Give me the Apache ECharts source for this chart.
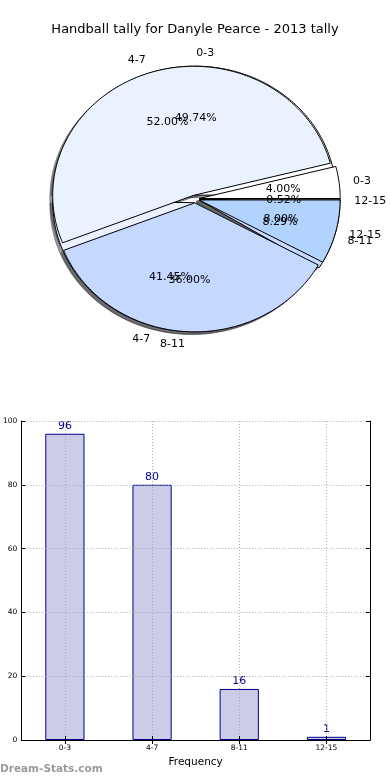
<!DOCTYPE html>
<html>
<head>
<meta charset="utf-8">
<script src="https://cdn.jsdelivr.net/npm/echarts@6/dist/echarts.min.js"></script>
<style>
html,body{margin:0;padding:0;background:#fff;}
#chart{width:390px;height:780px;}
</style>
</head>
<body>
<div id="chart"></div>
<script>
// ---- data ----
const categories = ['0-3', '4-7', '8-11', '12-15'];
const tallyCounts = [96, 80, 16, 1];          // 2013 tally (bar chart + first pie)
const otherShares = [4, 52, 36, 8];           // second overlaid pie (percent shares)
const yTicks = [0, 20, 40, 60, 80, 100];

// ---- styles / geometry ----
const sliceColors = ['#FFFFFF', '#EBF2FF', '#C5D8FF', '#B3D3FF'];
const FONT = 'DejaVu Sans';
const PIE_CX = 195, PIE_CY = 199, RX = 141, RY = 129, SPAN = 1.3;
const EXPLODE = 0.03, SHADOW_DX = -0.02, SHADOW_DY = -0.02;

function wedgeGeom(values, i) {
  const total = values.reduce((a, b) => a + b, 0);
  let before = 0;
  for (let k = 0; k < i; k++) before += values[k];
  const t1 = 2 * Math.PI * before / total;
  const t2 = 2 * Math.PI * (before + values[i]) / total;
  const tm = (t1 + t2) / 2;
  return { t1, t2, tm, ox: EXPLODE * Math.cos(tm), oy: EXPLODE * Math.sin(tm), frac: values[i] / total };
}
function wedgePoints(api, g, dx, dy) {
  const pts = [api.coord([g.ox + dx, g.oy + dy])];
  const n = Math.max(2, Math.ceil((g.t2 - g.t1) / (Math.PI / 180)));
  for (let k = 0; k <= n; k++) {
    const t = g.t1 + (g.t2 - g.t1) * k / n;
    pts.push(api.coord([g.ox + dx + Math.cos(t), g.oy + dy + Math.sin(t)]));
  }
  return pts;
}
function pieSeries(values, role) {
  return {
    type: 'custom', xAxisIndex: 2, yAxisIndex: 2, clip: false, silent: true,
    animation: false,
    data: values.map((v, i) => [i, v]),
    renderItem: function (params, api) {
      const i = params.dataIndex;
      const g = wedgeGeom(values, i);
      if (role === 'shadow') {
        return { type: 'polygon', shape: { points: wedgePoints(api, g, SHADOW_DX, SHADOW_DY) },
          style: { fill: 'rgba(60,60,66,0.5)', stroke: 'rgba(60,60,66,0.5)', lineWidth: 1 } };
      }
      if (role === 'wedge') {
        return { type: 'polygon', shape: { points: wedgePoints(api, g, 0, 0) },
          style: { fill: sliceColors[i], stroke: '#000', lineWidth: 1, lineJoin: 'round' } };
      }
      const lx = g.ox + 1.1 * Math.cos(g.tm), ly = g.oy + 1.1 * Math.sin(g.tm);
      const px = g.ox + 0.6 * Math.cos(g.tm), py = g.oy + 0.6 * Math.sin(g.tm);
      const lp = api.coord([lx, ly]), pp = api.coord([px, py]);
      return { type: 'group', children: [
        { type: 'text', x: lp[0], y: lp[1], z2: 20,
          style: { text: categories[i], fill: '#000', font: '11px "' + FONT + '"',
            align: lx > 0 ? 'left' : 'right', verticalAlign: 'middle' } },
        { type: 'text', x: pp[0], y: pp[1], z2: 20,
          style: { text: (g.frac * 100).toFixed(2) + '%', fill: '#000', font: '11px "' + FONT + '"',
            align: 'center', verticalAlign: 'middle' } }
      ] };
    }
  };
}

const option = {
  animation: false,
  title: {
    text: 'Handball tally for Danyle Pearce - 2013 tally',
    left: 'center', top: 18,
    textStyle: { fontFamily: FONT, fontSize: 13, fontWeight: 'normal', color: '#000' }
  },
  graphic: [{
    type: 'text', left: 0, top: 764,
    style: { text: 'Dream-Stats.com', fill: '#9a9a9a', font: 'bold 10.5px "DejaVu Sans"' }
  }],
  grid: [{
    left: 20, right: 20, top: 421, bottom: 40, show: false
  }, {
    left: PIE_CX - SPAN * RX, top: PIE_CY - SPAN * RY, width: 2 * SPAN * RX, height: 2 * SPAN * RY, show: false
  }],
  xAxis: [{
    type: 'category', data: categories, position: 'bottom', z: 5, gridIndex: 0,
    name: 'Frequency', nameLocation: 'middle', nameGap: 17,
    nameTextStyle: { fontFamily: FONT, fontSize: 10.5, color: '#000' },
    axisLine: { show: true, lineStyle: { color: '#000', width: 1 } },
    axisTick: { show: true, inside: true, length: 4, alignWithLabel: true, lineStyle: { color: '#000' } },
    axisLabel: { fontFamily: FONT, fontSize: 7.5, color: '#000', margin: 4 },
    splitLine: { show: true, alignWithLabel: true, lineStyle: { color: '#aaa', type: [1, 2], width: 1 } }
  }, {
    type: 'category', data: categories, position: 'top', z: 5, gridIndex: 0,
    axisLine: { show: true, lineStyle: { color: '#000', width: 1 } },
    axisTick: { show: true, inside: true, length: 4, alignWithLabel: true, lineStyle: { color: '#000' } },
    axisLabel: { show: false },
    splitLine: { show: false }
  }, {
    type: 'value', gridIndex: 1, min: -SPAN, max: SPAN, show: false
  }],
  yAxis: [{
    type: 'value', min: 0, max: 100, interval: 20, position: 'left', z: 5, gridIndex: 0,
    axisLine: { show: true, lineStyle: { color: '#000', width: 1 } },
    axisTick: { show: true, inside: true, length: 4, lineStyle: { color: '#000' } },
    axisLabel: { fontFamily: FONT, fontSize: 7.5, color: '#000', margin: 4,
      formatter: v => yTicks.includes(v) ? String(v) : '' },
    splitLine: { show: true, lineStyle: { color: '#aaa', type: [1, 2], width: 1 } }
  }, {
    type: 'value', min: 0, max: 100, interval: 20, position: 'right', z: 5, gridIndex: 0,
    axisLine: { show: true, lineStyle: { color: '#000', width: 1 } },
    axisTick: { show: true, inside: true, length: 4, lineStyle: { color: '#000' } },
    axisLabel: { show: false },
    splitLine: { show: false }
  }, {
    type: 'value', gridIndex: 1, min: -SPAN, max: SPAN, show: false
  }],
  series: [
    pieSeries(tallyCounts, 'shadow'),
    pieSeries(otherShares, 'shadow'),
    pieSeries(tallyCounts, 'wedge'),
    pieSeries(otherShares, 'wedge'),
    pieSeries(tallyCounts, 'label'),
    pieSeries(otherShares, 'label'),
    {
      type: 'bar', xAxisIndex: 0, yAxisIndex: 0,
      data: tallyCounts, barWidth: '45%',
      itemStyle: { color: '#CCCCE6', borderColor: '#00008B', borderWidth: 1 },
      label: { show: true, position: 'top', distance: 2, color: '#00008B',
        fontFamily: FONT, fontSize: 11 },
      emphasis: { disabled: true },
      silent: true
    }
  ]
};

const chart = echarts.init(document.getElementById('chart'), null, { renderer: 'canvas' });
chart.setOption(option);
</script>
</body>
</html>
